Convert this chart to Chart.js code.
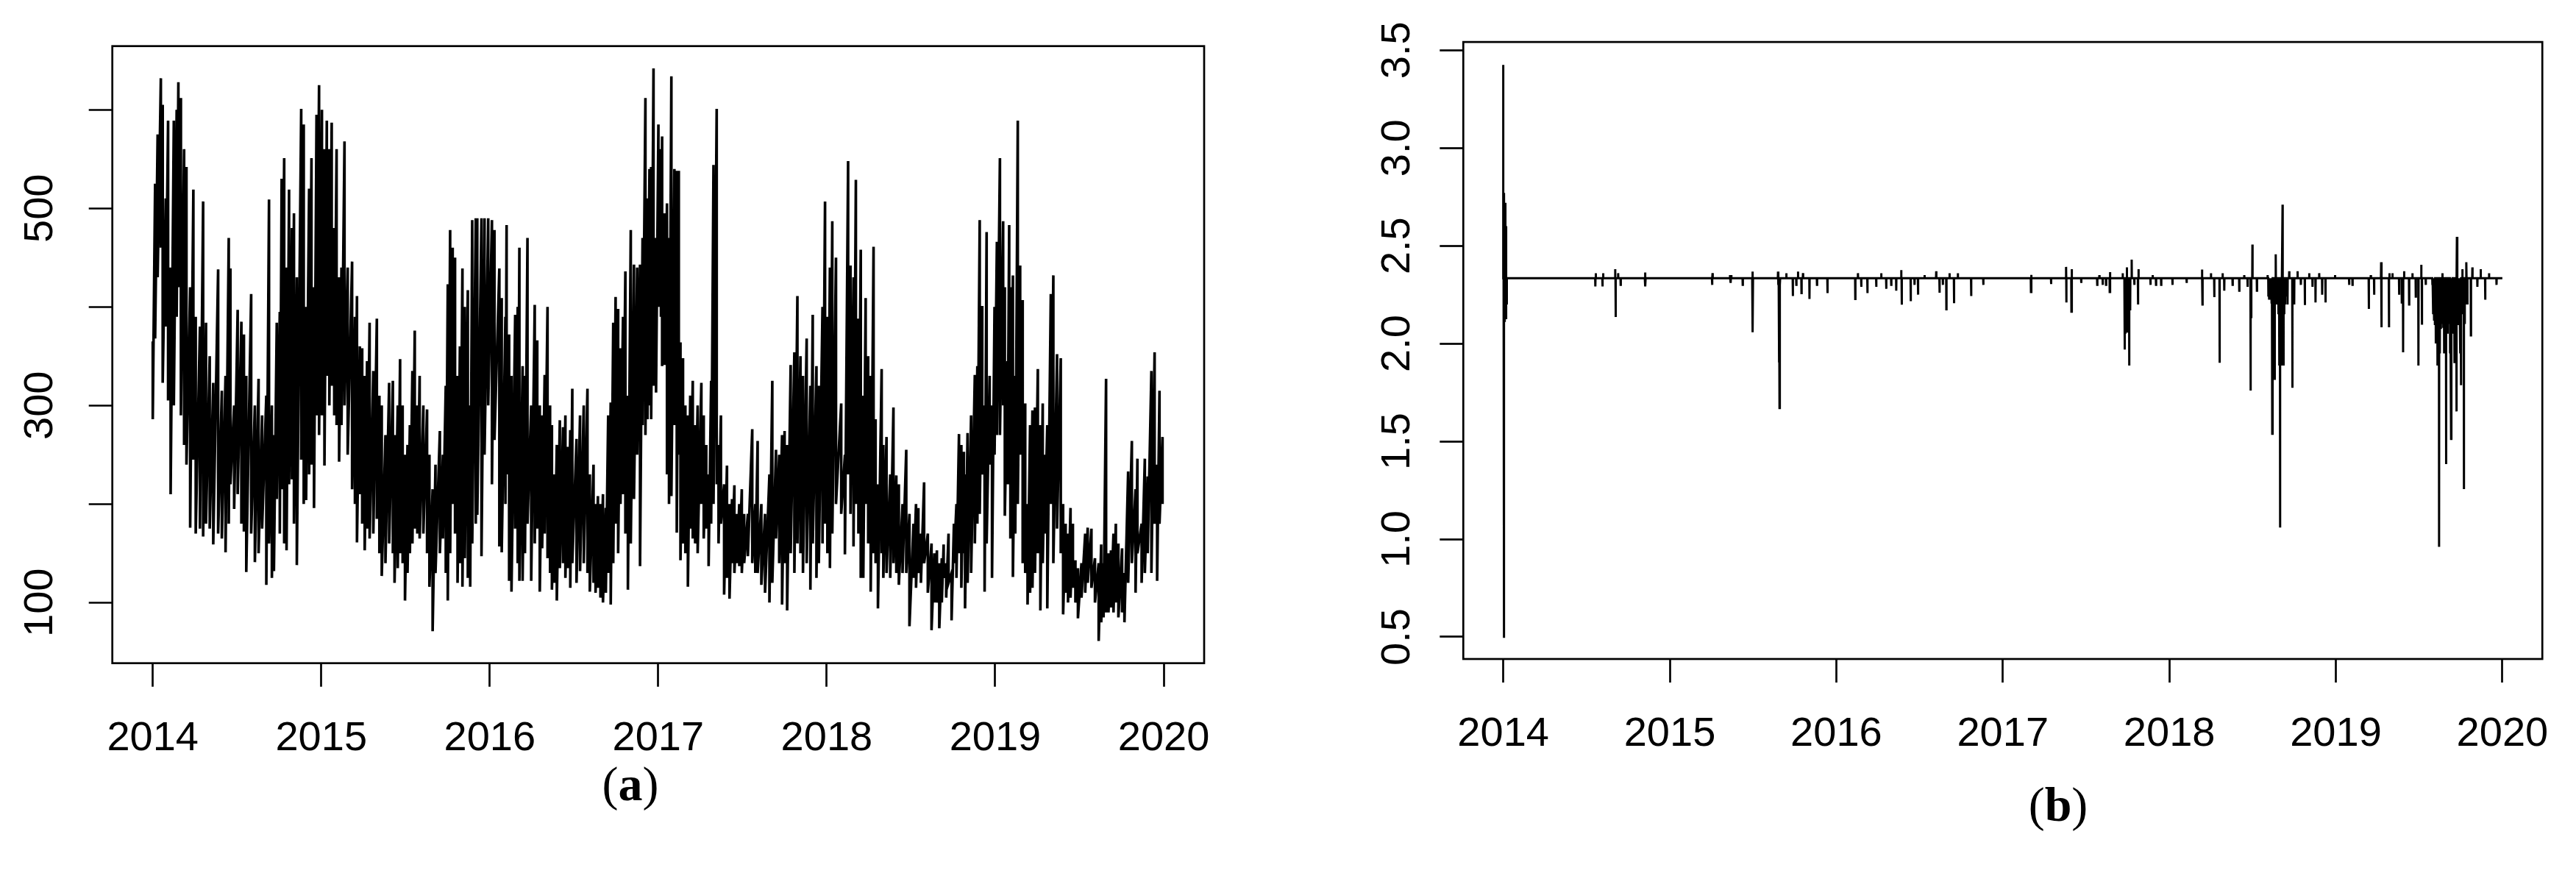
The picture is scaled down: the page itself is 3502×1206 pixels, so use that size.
<!DOCTYPE html>
<html>
<head>
<meta charset="utf-8">
<script src="https://cdn.jsdelivr.net/npm/chart.js@4.4.1/dist/chart.umd.min.js"></script>
<style>
html, body { margin:0; padding:0; background:#fff; }
body { width:3502px; height:1206px; position:relative; overflow:hidden; }
.wrap { position:absolute; top:0; }
#wrapA { left:0; width:1720px; height:1040px; }
#wrapB { left:1760px; width:1742px; height:1040px; }
.cap { position:absolute; font-family:"Liberation Serif", serif; font-size:66px; color:#000;
       transform:translate(-50%,-50%); white-space:nowrap; }
</style>
</head>
<body>
<div class="wrap" id="wrapA"><canvas id="chartA"></canvas></div>
<div class="wrap" id="wrapB"><canvas id="chartB"></canvas></div>
<div class="cap" style="left:857px; top:1066px">(<b>a</b>)</div>
<div class="cap" style="left:2798px; top:1094px">(<b>b</b>)</div>
<script>
// x axis, shared
var yearTicks = [2014, 2015, 2016, 2017, 2018, 2019, 2020]
var xMin = 2013.76, xMax = 2020.24

// (a) daily series read as [year, high, low] per ~1-2 weeks
var yTicksA = [100, 200, 300, 400, 500, 600]
var yLabelsA = [100, 300, 500]
var pm2014 = [[2014.000,365,286],[2014.014,525,368],[2014.029,575,430],[2014.048,632,460],[2014.059,605,323],[2014.077,510,380],[2014.091,589,305],[2014.106,440,210],[2014.125,589,300],[2014.142,600,390],[2014.152,628,420],[2014.167,612,290],[2014.186,560,260],[2014.200,542,240],[2014.222,420,176],[2014.241,519,245],[2014.255,390,170],[2014.280,380,175],[2014.299,507,167],[2014.316,384,180],[2014.338,350,175],[2014.359,323,159],[2014.388,438,170],[2014.410,315,165],[2014.432,330,151],[2014.451,470,180],[2014.461,439,220],[2014.483,300,195],[2014.504,397,210],[2014.526,385,180],[2014.541,372,172],[2014.555,330,131],[2014.584,413,170],[2014.606,300,141],[2014.628,327,150],[2014.649,290,175],[2014.674,310,118],[2014.690,509,160],[2014.707,300,125],[2014.719,270,132],[2014.736,384,205],[2014.754,395,170],[2014.765,530,215],[2014.780,551,160],[2014.794,440,153],[2014.809,519,220],[2014.826,480,225],[2014.838,495,180],[2014.855,430,138],[2014.881,601,245],[2014.896,585,200],[2014.910,400,204],[2014.928,520,230],[2014.942,551,240],[2014.957,420,196],[2014.972,595,290],[2014.987,625,270]]
var pm2015 = [[2015.004,600,290],[2015.019,560,239],[2015.033,589,330],[2015.048,560,300],[2015.062,587,320],[2015.077,480,290],[2015.091,560,280],[2015.106,430,243],[2015.120,440,280],[2015.138,568,300],[2015.157,440,250],[2015.183,446,215],[2015.200,390,200],[2015.212,411,161],[2015.229,360,210],[2015.243,358,180],[2015.258,330,153],[2015.272,345,175],[2015.287,384,165],[2015.309,335,170],[2015.330,388,185],[2015.345,310,150],[2015.359,300,127],[2015.381,270,140],[2015.403,323,160],[2015.425,325,150],[2015.435,270,120],[2015.454,300,135],[2015.468,347,150],[2015.483,300,140],[2015.497,250,102],[2015.512,260,130],[2015.526,280,150],[2015.541,335,160],[2015.555,376,175],[2015.570,300,170],[2015.584,330,165],[2015.606,300,170],[2015.628,296,150],[2015.642,250,116],[2015.661,215,71],[2015.678,240,130],[2015.704,274,150],[2015.722,250,165],[2015.739,320,130],[2015.751,423,102],[2015.765,478,150],[2015.780,460,200],[2015.794,450,170],[2015.809,330,120],[2015.823,360,140],[2015.838,439,116],[2015.852,400,145],[2015.870,417,125],[2015.884,300,116],[2015.896,488,160],[2015.917,490,180],[2015.926,490,189],[2015.951,490,147],[2015.969,490,250],[2015.991,490,300]]
var pm2016 = [[2016.013,488,220],[2016.028,478,265],[2016.057,439,157],[2016.071,409,151],[2016.093,390,200],[2016.100,483,230],[2016.115,372,122],[2016.129,330,111],[2016.151,392,175],[2016.166,400,140],[2016.176,460,122],[2016.195,340,122],[2016.209,330,150],[2016.224,470,180],[2016.246,300,122],[2016.267,402,160],[2016.282,366,175],[2016.297,300,111],[2016.311,290,155],[2016.326,331,170],[2016.343,400,145],[2016.358,300,130],[2016.369,280,113],[2016.384,230,120],[2016.398,260,102],[2016.416,285,135],[2016.435,278,140],[2016.449,290,125],[2016.464,258,135],[2016.478,275,115],[2016.490,317,140],[2016.515,266,120],[2016.536,290,132],[2016.558,300,140],[2016.580,317,130],[2016.594,230,111],[2016.616,240,120],[2016.628,200,110],[2016.642,208,115],[2016.657,200,105],[2016.672,210,100],[2016.689,196,110],[2016.703,290,130],[2016.718,303,98],[2016.733,384,140],[2016.747,410,180],[2016.762,398,150],[2016.776,358,200],[2016.791,390,210],[2016.805,436,170],[2016.820,310,113],[2016.837,478,160],[2016.856,443,205],[2016.875,440,250],[2016.892,443,137],[2016.907,470,280],[2016.924,612,270],[2016.936,510,286],[2016.948,540,300],[2016.958,542,286],[2016.972,642,320],[2016.987,470,313]]
var pm2017 = [[2017.001,585,400],[2017.016,560,390],[2017.023,573,340],[2017.038,495,341],[2017.052,505,230],[2017.064,470,200],[2017.078,634,208],[2017.096,540,280],[2017.110,538,171],[2017.122,538,250],[2017.132,364,143],[2017.147,348,160],[2017.161,300,150],[2017.176,290,116],[2017.190,310,175],[2017.205,325,165],[2017.219,280,160],[2017.234,300,150],[2017.256,323,200],[2017.270,290,165],[2017.285,260,175],[2017.299,230,137],[2017.314,325,180],[2017.328,544,200],[2017.347,601,220],[2017.358,260,160],[2017.372,290,180],[2017.391,220,108],[2017.408,239,125],[2017.423,200,104],[2017.438,205,140],[2017.452,219,130],[2017.467,190,140],[2017.481,200,137],[2017.496,215,130],[2017.510,190,140],[2017.532,190,147],[2017.558,276,140],[2017.576,200,130],[2017.590,264,130],[2017.612,200,118],[2017.634,190,110],[2017.660,230,100],[2017.677,325,120],[2017.699,255,165],[2017.718,250,140],[2017.735,270,98],[2017.750,274,140],[2017.765,260,92],[2017.786,341,150],[2017.808,354,130],[2017.826,411,160],[2017.844,350,150],[2017.859,330,130],[2017.881,368,140],[2017.903,320,113],[2017.917,392,160],[2017.939,340,125],[2017.953,320,140],[2017.975,400,160],[2017.990,507,180]]
var pm2018 = [[2018.004,390,150],[2018.019,440,135],[2018.033,487,170],[2018.055,450,200],[2018.086,302,190],[2018.108,250,149],[2018.127,548,230],[2018.141,442,190],[2018.159,430,157],[2018.173,529,200],[2018.188,388,170],[2018.202,458,125],[2018.217,310,125],[2018.231,409,200],[2018.246,350,160],[2018.261,330,111],[2018.278,461,150],[2018.290,286,140],[2018.304,220,94],[2018.326,337,150],[2018.336,260,125],[2018.355,268,130],[2018.377,230,125],[2018.396,298,140],[2018.413,229,130],[2018.428,220,118],[2018.450,200,130],[2018.472,255,130],[2018.491,190,76],[2018.515,180,125],[2018.530,200,115],[2018.544,196,130],[2018.559,170,120],[2018.578,222,140],[2018.600,170,110],[2018.622,160,72],[2018.639,150,100],[2018.654,153,100],[2018.668,140,74],[2018.683,145,100],[2018.694,159,125],[2018.709,140,105],[2018.723,170,120],[2018.741,130,82],[2018.755,180,140],[2018.770,200,125],[2018.785,271,150],[2018.799,260,115],[2018.814,253,150],[2018.821,230,94],[2018.836,272,120],[2018.857,290,130],[2018.879,331,160],[2018.894,340,180],[2018.908,488,190],[2018.923,401,230],[2018.937,300,111],[2018.949,476,160],[2018.967,330,240],[2018.981,300,125],[2018.996,400,250]]
var pm2019 = [[2019.010,466,270],[2019.028,551,270],[2019.047,487,300],[2019.057,420,188],[2019.073,345,220],[2019.083,483,220],[2019.090,420,165],[2019.105,432,126],[2019.119,330,170],[2019.134,589,200],[2019.148,442,250],[2019.163,407,140],[2019.178,302,130],[2019.192,200,98],[2019.207,280,110],[2019.221,295,115],[2019.236,298,130],[2019.253,337,150],[2019.268,280,92],[2019.282,302,140],[2019.294,250,170],[2019.309,280,94],[2019.330,413,200],[2019.345,432,140],[2019.367,352,175],[2019.389,348,150],[2019.403,200,88],[2019.418,180,110],[2019.432,170,100],[2019.447,196,105],[2019.461,180,115],[2019.476,143,100],[2019.491,135,84],[2019.512,140,105],[2019.534,170,110],[2019.549,176,120],[2019.571,175,115],[2019.592,145,100],[2019.614,140,61],[2019.629,159,80],[2019.643,140,85],[2019.658,327,90],[2019.672,150,90],[2019.687,153,95],[2019.702,170,90],[2019.716,180,100],[2019.731,160,85],[2019.753,155,90],[2019.767,130,80],[2019.789,233,120],[2019.811,264,140],[2019.833,215,110],[2019.844,246,150],[2019.869,180,120],[2019.888,246,130],[2019.905,228,150],[2019.927,335,130],[2019.946,354,180],[2019.961,240,122],[2019.975,315,180],[2019.993,268,200]]

// (b) flat level with spikes: [year, value]
var yTicksB = [0.5, 1.0, 1.5, 2.0, 2.5, 3.0, 3.5]
var baseB = 2.334
var spanB = [2014.0, 2020.0]
var spikesB = [[2014.000,3.425],[2014.003,0.495],[2014.006,2.770],[2014.009,2.110],[2014.012,2.720],[2014.015,2.130],[2014.018,2.600],[2014.021,2.200],
  [2014.553,2.292],[2014.556,2.360],[2014.596,2.292],[2014.600,2.360],[2014.672,2.380],[2014.675,2.136],[2014.690,2.360],[2014.705,2.300],[2014.851,2.363],[2014.854,2.292],
  [2015.254,2.300],[2015.257,2.360],[2015.362,2.350],[2015.366,2.310],[2015.370,2.350],[2015.438,2.300],[2015.496,2.368],[2015.499,2.058],[2015.650,2.368],[2015.653,2.300],[2015.656,1.904],[2015.659,1.670],[2015.662,2.300],[2015.700,2.360],[2015.739,2.243],[2015.760,2.300],[2015.770,2.368],[2015.791,2.258],[2015.800,2.360],[2015.839,2.228],[2015.884,2.300],[2015.947,2.258],
  [2016.114,2.228],[2016.130,2.360],[2016.150,2.290],[2016.187,2.258],[2016.240,2.290],[2016.270,2.360],[2016.300,2.280],[2016.330,2.300],[2016.360,2.270],[2016.390,2.376],[2016.393,2.199],[2016.447,2.217],[2016.470,2.300],[2016.491,2.250],[2016.530,2.350],[2016.600,2.370],[2016.620,2.260],[2016.640,2.300],[2016.661,2.175],[2016.680,2.360],[2016.707,2.206],[2016.730,2.360],[2016.810,2.243],[2016.883,2.300],
  [2017.169,2.264],[2017.172,2.351],[2017.290,2.304],[2017.380,2.392],[2017.382,2.210],[2017.412,2.163],[2017.415,2.380],[2017.471,2.310],[2017.567,2.300],[2017.580,2.350],[2017.600,2.300],[2017.620,2.300],[2017.642,2.264],[2017.645,2.365],[2017.720,2.360],[2017.731,1.969],[2017.735,2.056],[2017.740,2.056],[2017.745,2.390],[2017.750,2.056],[2017.754,2.100],[2017.759,1.888],[2017.765,2.170],[2017.774,2.429],[2017.790,2.300],[2017.812,2.200],[2017.815,2.380],[2017.887,2.300],[2017.900,2.350],[2017.920,2.300],[2017.951,2.300],
  [2018.019,2.300],[2018.104,2.310],[2018.196,2.378],[2018.199,2.200],[2018.250,2.360],[2018.270,2.237],[2018.302,1.902],[2018.320,2.360],[2018.330,2.270],[2018.380,2.300],[2018.420,2.270],[2018.450,2.350],[2018.470,2.290],[2018.488,1.760],[2018.492,2.130],[2018.499,2.506],[2018.526,2.270],
  [2018.590,2.350],[2018.595,2.240],[2018.600,2.224],[2018.605,2.230],[2018.610,2.250],[2018.614,2.210],[2018.618,1.539],[2018.621,2.150],[2018.625,2.200],[2018.629,2.180],[2018.633,1.814],[2018.639,2.456],[2018.644,2.200],[2018.650,2.230],[2018.655,2.150],[2018.660,1.888],[2018.665,1.059],[2018.670,2.100],[2018.675,1.888],[2018.680,2.710],[2018.686,1.888],[2018.690,2.150],[2018.695,2.200],[2018.700,2.250],[2018.705,2.240],[2018.710,2.200],
  [2018.720,2.370],[2018.739,1.774],[2018.750,2.200],[2018.770,2.370],[2018.790,2.300],[2018.814,2.197],[2018.840,2.360],[2018.860,2.290],[2018.878,2.210],[2018.900,2.360],[2018.918,2.250],[2018.938,2.210],[2018.995,2.350],
  [2019.080,2.300],[2019.100,2.300],[2019.198,2.177],[2019.210,2.350],[2019.230,2.250],[2019.272,2.416],[2019.275,2.083],[2019.319,2.083],[2019.322,2.360],[2019.340,2.360],[2019.380,2.250],[2019.396,2.210],[2019.404,1.955],[2019.410,2.370],[2019.440,2.200],[2019.460,2.360],[2019.480,2.240],[2019.496,1.888],[2019.513,2.403],[2019.517,2.096],[2019.540,2.300],
  [2019.580,2.300],[2019.585,2.150],[2019.590,2.123],[2019.595,2.100],[2019.600,2.000],[2019.605,2.050],[2019.610,1.888],[2019.615,2.000],[2019.620,0.961],[2019.625,1.950],[2019.630,2.080],[2019.635,2.100],[2019.640,2.360],[2019.645,2.080],[2019.650,1.950],[2019.655,2.000],[2019.662,1.384],[2019.667,2.100],[2019.671,2.050],[2019.675,2.120],[2019.680,2.100],[2019.686,1.950],[2019.692,1.512],[2019.696,2.100],[2019.700,2.050],[2019.706,2.100],[2019.712,1.900],[2019.718,2.000],[2019.724,1.653],[2019.727,2.546],[2019.732,2.100],[2019.736,2.150],[2019.740,2.100],[2019.745,2.100],[2019.748,1.950],[2019.752,1.787],[2019.756,2.150],[2019.760,2.380],[2019.764,2.150],[2019.769,1.256],[2019.774,2.100],[2019.779,2.200],[2019.784,2.416],[2019.790,2.200],
  [2019.811,2.042],[2019.820,2.390],[2019.850,2.290],[2019.870,2.380],[2019.897,2.224],[2019.920,2.360],[2019.965,2.300]]

var tickFont = { family: 'Liberation Sans', size: 56 }

// high then low at each sample, line zigzags through them like the dense daily plot
function zigzag(rows) {
    var pts = []
    rows.forEach(function(r) {
        pts.push({x: r[0], y: r[1]})
        pts.push({x: r[0], y: r[2]})
    })
    return pts
}

function spikeLine(base, span, spikes) {
    var e = 0.001
    var pts = [{x: span[0], y: base}]
    spikes.forEach(function(s) {
        pts.push({x: s[0] - e, y: base})
        pts.push({x: s[0], y: s[1]})
        pts.push({x: s[0] + e, y: base})
    })
    pts.push({x: span[1], y: base})
    return pts
}

var frame = {
    id: 'frame',
    afterDraw: function(c) {
        var a = c.chartArea, ctx = c.ctx
        ctx.save()
        ctx.strokeStyle = '#000'
        ctx.lineWidth = 2.7
        ctx.strokeRect(a.left, a.top, a.right - a.left, a.bottom - a.top)
        ctx.restore()
    }
}

function makeScales(yMin, yMax, yTicks, yLabel, yWidth, xHeight) {
    var grid = { drawOnChartArea: false, drawTicks: true, tickLength: 32, tickWidth: 2.7, tickColor: '#000' }
    return {
        x: {
            type: 'linear', min: xMin, max: xMax,
            afterBuildTicks: function(s) { s.ticks = yearTicks.map(function(v) { return {value: v} }) },
            afterFit: function(s) { s.height = xHeight },
            grid: grid,
            border: { display: false },
            ticks: { font: tickFont, color: '#000', padding: 37, maxRotation: 0, autoSkip: false,
                     callback: function(v) { return String(v) } }
        },
        y: {
            type: 'linear', min: yMin, max: yMax,
            afterBuildTicks: function(s) { s.ticks = yTicks.map(function(v) { return {value: v} }) },
            afterFit: function(s) { s.width = yWidth },
            grid: grid,
            border: { display: false },
            ticks: { font: tickFont, color: '#000', padding: 18, minRotation: 90, maxRotation: 90,
                     crossAlign: 'center', autoSkip: false, callback: yLabel }
        }
    }
}

function makeChart(id, points, scales, pad, lw) {
    return new Chart(document.getElementById(id), {
        type: 'line',
        data: { datasets: [{ data: points, borderColor: '#000', borderWidth: lw, pointRadius: 0,
                             tension: 0, fill: false }] },
        options: {
            responsive: true, maintainAspectRatio: false, animation: false,
            parsing: false, normalized: true,
            layout: { padding: pad },
            plugins: { legend: { display: false }, tooltip: { enabled: false } },
            scales: scales
        },
        plugins: [frame]
    })
}

var seriesA = zigzag([].concat(pm2014, pm2015, pm2016, pm2017, pm2018, pm2019))
makeChart('chartA', seriesA,
    makeScales(38.5, 664.6, yTicksA, function(v) { return yLabelsA.indexOf(v) >= 0 ? String(v) : '' }, 152.7, 138.3),
    { top: 62.7, right: 83, bottom: 0, left: 0 }, 3.6)

var seriesB = spikeLine(baseB, spanB, spikesB)
makeChart('chartB', seriesB,
    makeScales(0.387, 3.542, yTicksB, function(v) { return v.toFixed(1) }, 229.3, 144),
    { top: 57.1, right: 22.5, bottom: 0, left: 0 }, 3.0)
</script>
</body>
</html>
